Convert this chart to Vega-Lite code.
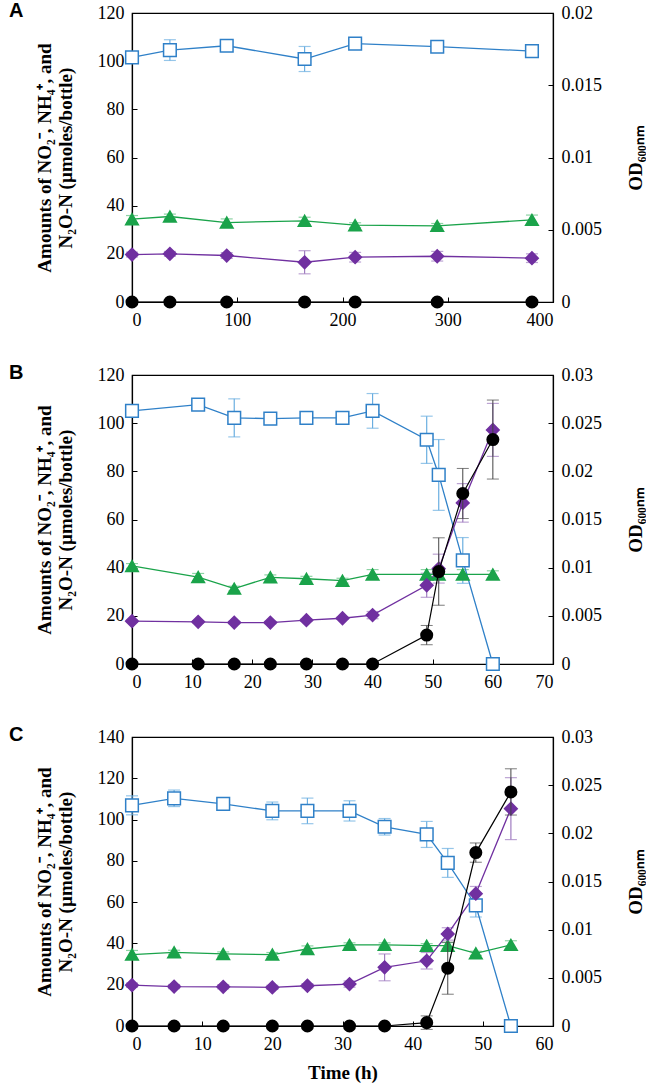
{
  "$schema": "https://vega.github.io/schema/vega-lite/v6.json",
  "background": "white",
  "padding": {"left": 8, "top": 0, "right": 0, "bottom": 0},
  "spacing": 32,
  "config": {
    "view": {"stroke": "black", "strokeWidth": 1.2},
    "axis": {"grid": false, "domainColor": "black", "domainWidth": 1.2, "tickColor": "black", "tickSize": -5, "labelFont": "Liberation Serif", "labelFontSize": 18, "labelColor": "black", "titleFont": "Liberation Serif", "titleFontSize": 19, "titleFontWeight": "bold", "titleColor": "black", "labelPadding": 13},
    "axisX": {"labelPadding": 14},
    "title": {"font": "Liberation Sans", "fontSize": 20, "fontWeight": "bold", "anchor": "start", "frame": "group", "dx": -123, "offset": -17, "color": "black"}
  },
  "datasets": {
    "A": [
      {"s": "NO2", "t": 0, "v": 101.6, "e": 1.5}, {"s": "NO2", "t": 36, "v": 104.6, "e": 4.3}, {"s": "NO2", "t": 90, "v": 106.4, "e": 1.5}, {"s": "NO2", "t": 164, "v": 100.9, "e": 5.2}, {"s": "NO2", "t": 212, "v": 107.3, "e": 1.5}, {"s": "NO2", "t": 290, "v": 106, "e": 1}, {"s": "NO2", "t": 380, "v": 104.2, "e": 1},
      {"s": "NH4", "t": 0, "v": 34.4, "e": 1.5}, {"s": "NH4", "t": 36, "v": 35.5, "e": 1}, {"s": "NH4", "t": 90, "v": 33, "e": 1.5}, {"s": "NH4", "t": 164, "v": 33.7, "e": 1.5}, {"s": "NH4", "t": 212, "v": 31.9, "e": 1}, {"s": "NH4", "t": 290, "v": 31.6, "e": 1}, {"s": "NH4", "t": 380, "v": 34.1, "e": 2},
      {"s": "N2O", "t": 0, "v": 19.7, "e": 1}, {"s": "N2O", "t": 36, "v": 20, "e": 1}, {"s": "N2O", "t": 90, "v": 19.3, "e": 1.2}, {"s": "N2O", "t": 164, "v": 16.5, "e": 4.8}, {"s": "N2O", "t": 212, "v": 18.6, "e": 2}, {"s": "N2O", "t": 290, "v": 19, "e": 2}, {"s": "N2O", "t": 380, "v": 18.2, "e": 1.8},
      {"s": "OD", "t": 0, "v": 0, "e": 0}, {"s": "OD", "t": 36, "v": 0, "e": 0}, {"s": "OD", "t": 90, "v": 0, "e": 0}, {"s": "OD", "t": 164, "v": 0, "e": 0}, {"s": "OD", "t": 212, "v": 0, "e": 0}, {"s": "OD", "t": 290, "v": 0, "e": 0}, {"s": "OD", "t": 380, "v": 0, "e": 0}
    ],
    "B": [
      {"s": "NO2", "t": 0, "v": 105.1, "e": 1}, {"s": "NO2", "t": 11, "v": 107.7, "e": 2}, {"s": "NO2", "t": 17, "v": 102.2, "e": 7.9}, {"s": "NO2", "t": 23, "v": 101.9, "e": 2.5}, {"s": "NO2", "t": 29, "v": 102.2, "e": 2.5}, {"s": "NO2", "t": 35, "v": 102.2, "e": 2.5}, {"s": "NO2", "t": 40, "v": 105.1, "e": 7.2}, {"s": "NO2", "t": 49, "v": 93.1, "e": 9.8}, {"s": "NO2", "t": 51, "v": 78.5, "e": 14.7}, {"s": "NO2", "t": 55, "v": 43, "e": 9.5}, {"s": "NO2", "t": 60, "v": 0, "e": 0},
      {"s": "NH4", "t": 0, "v": 40.7, "e": 1}, {"s": "NH4", "t": 11, "v": 36.1, "e": 1.5}, {"s": "NH4", "t": 17, "v": 31.3, "e": 1}, {"s": "NH4", "t": 23, "v": 36, "e": 1}, {"s": "NH4", "t": 29, "v": 35.4, "e": 1}, {"s": "NH4", "t": 35, "v": 34.6, "e": 1}, {"s": "NH4", "t": 40, "v": 37.2, "e": 2}, {"s": "NH4", "t": 49, "v": 37.2, "e": 2}, {"s": "NH4", "t": 51, "v": 37.2, "e": 2}, {"s": "NH4", "t": 55, "v": 37.2, "e": 2}, {"s": "NH4", "t": 60, "v": 37.2, "e": 1.5},
      {"s": "N2O", "t": 0, "v": 17.8, "e": 0.5}, {"s": "N2O", "t": 11, "v": 17.5, "e": 0.5}, {"s": "N2O", "t": 17, "v": 17.2, "e": 0.5}, {"s": "N2O", "t": 23, "v": 17.2, "e": 0.5}, {"s": "N2O", "t": 29, "v": 18.2, "e": 0.5}, {"s": "N2O", "t": 35, "v": 19, "e": 0.5}, {"s": "N2O", "t": 40, "v": 20.3, "e": 1.5}, {"s": "N2O", "t": 49, "v": 32.7, "e": 5}, {"s": "N2O", "t": 51, "v": 39.6, "e": 6}, {"s": "N2O", "t": 55, "v": 66.9, "e": 8}, {"s": "N2O", "t": 60, "v": 97.2, "e": 11},
      {"s": "OD", "t": 0, "v": 0, "e": 0}, {"s": "OD", "t": 11, "v": 0, "e": 0}, {"s": "OD", "t": 17, "v": 0, "e": 0}, {"s": "OD", "t": 23, "v": 0, "e": 0}, {"s": "OD", "t": 29, "v": 0, "e": 0}, {"s": "OD", "t": 35, "v": 0, "e": 0}, {"s": "OD", "t": 40, "v": 0, "e": 0}, {"s": "OD", "t": 49, "v": 0.003, "e": 0.001}, {"s": "OD", "t": 51, "v": 0.0096, "e": 0.0035}, {"s": "OD", "t": 55, "v": 0.0177, "e": 0.0026}, {"s": "OD", "t": 60, "v": 0.0233, "e": 0.0041}
    ],
    "C": [
      {"s": "NO2", "t": 0, "v": 106.9, "e": 4.6}, {"s": "NO2", "t": 6, "v": 110.3, "e": 4}, {"s": "NO2", "t": 13, "v": 107.6, "e": 1.5}, {"s": "NO2", "t": 20, "v": 104.2, "e": 4.3}, {"s": "NO2", "t": 25, "v": 104.2, "e": 6.2}, {"s": "NO2", "t": 31, "v": 104.2, "e": 4.9}, {"s": "NO2", "t": 36, "v": 96.5, "e": 4}, {"s": "NO2", "t": 42, "v": 92.8, "e": 6.3}, {"s": "NO2", "t": 45, "v": 79, "e": 7}, {"s": "NO2", "t": 49, "v": 58.4, "e": 5.6}, {"s": "NO2", "t": 54, "v": 0, "e": 0},
      {"s": "NH4", "t": 0, "v": 34.6, "e": 2}, {"s": "NH4", "t": 6, "v": 35.7, "e": 1}, {"s": "NH4", "t": 13, "v": 34.9, "e": 1}, {"s": "NH4", "t": 20, "v": 34.6, "e": 1}, {"s": "NH4", "t": 25, "v": 37.3, "e": 1.5}, {"s": "NH4", "t": 31, "v": 39.3, "e": 1}, {"s": "NH4", "t": 36, "v": 39.3, "e": 1}, {"s": "NH4", "t": 42, "v": 38.9, "e": 1}, {"s": "NH4", "t": 45, "v": 38.9, "e": 1.5}, {"s": "NH4", "t": 49, "v": 35.2, "e": 1}, {"s": "NH4", "t": 54, "v": 39.3, "e": 2},
      {"s": "N2O", "t": 0, "v": 19.8, "e": 1}, {"s": "N2O", "t": 6, "v": 19.1, "e": 1}, {"s": "N2O", "t": 13, "v": 19, "e": 1}, {"s": "N2O", "t": 20, "v": 18.7, "e": 1}, {"s": "N2O", "t": 25, "v": 19.5, "e": 1}, {"s": "N2O", "t": 31, "v": 20.3, "e": 1.5}, {"s": "N2O", "t": 36, "v": 28.4, "e": 6.5}, {"s": "N2O", "t": 42, "v": 31.6, "e": 4}, {"s": "N2O", "t": 45, "v": 44.6, "e": 3}, {"s": "N2O", "t": 49, "v": 64.1, "e": 3.5}, {"s": "N2O", "t": 54, "v": 105.3, "e": 15},
      {"s": "OD", "t": 0, "v": 0, "e": 0}, {"s": "OD", "t": 6, "v": 0, "e": 0}, {"s": "OD", "t": 13, "v": 0, "e": 0}, {"s": "OD", "t": 20, "v": 0, "e": 0}, {"s": "OD", "t": 25, "v": 0, "e": 0}, {"s": "OD", "t": 31, "v": 0, "e": 0}, {"s": "OD", "t": 36, "v": 0, "e": 0}, {"s": "OD", "t": 42, "v": 0.00035, "e": 0.0007}, {"s": "OD", "t": 45, "v": 0.006, "e": 0.0027}, {"s": "OD", "t": 49, "v": 0.018, "e": 0.001}, {"s": "OD", "t": 54, "v": 0.0243, "e": 0.0024}
    ]
  },
  "vconcat": [
    {
      "width": 421, "height": 289,
      "title": "A",
      "data": {"name": "A"},
      "layer": [
        {
          "transform": [{"filter": "datum.s != 'OD'"}],
          "encoding": {
            "x": {"field": "t", "type": "quantitative", "scale": {"domain": [0, 400], "nice": false}, "axis": {"values": [0, 100, 200, 300, 400], "title": null}},
            "y": {"field": "v", "type": "quantitative", "scale": {"domain": [0, 120], "nice": false}, "axis": {"values": [0, 20, 40, 60, 80, 100, 120], "title": ["Amounts of NO₂⁻, NH₄⁺, and", "N₂O-N  (µmoles/bottle)"], "titlePadding": 22}}
          },
          "layer": [
            {"mark": {"type": "errorbar", "ticks": {"size": 12}, "thickness": 1.2}, "encoding": {"yError": {"field": "e"}, "color": {"field": "s", "type": "nominal", "scale": {"domain": ["NO2", "NH4", "N2O"], "range": ["#6aaee0", "#5cc07e", "#a07cc0"]}, "legend": null}}},
            {"mark": {"type": "line", "strokeWidth": 1.3}, "encoding": {"stroke": {"field": "s", "type": "nominal", "scale": {"domain": ["NO2", "NH4", "N2O"], "range": ["#2f80c8", "#1aa34a", "#7030a0"]}, "legend": null}}},
            {"mark": {"type": "point", "filled": true, "opacity": 1, "strokeWidth": 1.5, "size": 160}, "encoding": {
              "shape": {"field": "s", "type": "nominal", "scale": {"domain": ["NO2", "NH4", "N2O"], "range": ["square", "triangle-up", "diamond"]}, "legend": null},
              "fill": {"field": "s", "type": "nominal", "scale": {"domain": ["NO2", "NH4", "N2O"], "range": ["white", "#1aa34a", "#7030a0"]}, "legend": null},
              "stroke": {"field": "s", "type": "nominal", "legend": null}}}
          ]
        },
        {
          "transform": [{"filter": "datum.s == 'OD'"}],
          "encoding": {
            "x": {"field": "t", "type": "quantitative"},
            "y": {"field": "v", "type": "quantitative", "scale": {"domain": [0, 0.02], "nice": false}, "axis": {"orient": "right", "values": [0, 0.005, 0.01, 0.015, 0.02], "format": "~g", "title": "OD₆₀₀ₙₘ", "titleAngle": -90, "titleBaseline": "top", "titlePadding": 25}}
          },
          "layer": [
            {"mark": {"type": "errorbar", "ticks": {"size": 12}, "color": "#444444"}, "encoding": {"yError": {"field": "e"}}},
            {"mark": {"type": "line", "color": "black", "strokeWidth": 1.2}},
            {"mark": {"type": "point", "shape": "circle", "filled": true, "opacity": 1, "color": "black", "size": 170}}
          ]
        }
      ],
      "resolve": {"scale": {"y": "independent"}}
    },
    {
      "width": 421, "height": 289,
      "title": "B",
      "data": {"name": "B"},
      "layer": [
        {
          "transform": [{"filter": "datum.s != 'OD'"}],
          "encoding": {
            "x": {"field": "t", "type": "quantitative", "scale": {"domain": [0, 70], "nice": false}, "axis": {"values": [0, 10, 20, 30, 40, 50, 60, 70], "title": null}},
            "y": {"field": "v", "type": "quantitative", "scale": {"domain": [0, 120], "nice": false}, "axis": {"values": [0, 20, 40, 60, 80, 100, 120], "title": ["Amounts of NO₂⁻, NH₄⁺, and", "N₂O-N  (µmoles/bottle)"], "titlePadding": 22}}
          },
          "layer": [
            {"mark": {"type": "errorbar", "ticks": {"size": 12}, "thickness": 1.2}, "encoding": {"yError": {"field": "e"}, "color": {"field": "s", "type": "nominal", "scale": {"domain": ["NO2", "NH4", "N2O"], "range": ["#6aaee0", "#5cc07e", "#a07cc0"]}, "legend": null}}},
            {"mark": {"type": "line", "strokeWidth": 1.3}, "encoding": {"stroke": {"field": "s", "type": "nominal", "scale": {"domain": ["NO2", "NH4", "N2O"], "range": ["#2f80c8", "#1aa34a", "#7030a0"]}, "legend": null}}},
            {"mark": {"type": "point", "filled": true, "opacity": 1, "strokeWidth": 1.5, "size": 160}, "encoding": {
              "shape": {"field": "s", "type": "nominal", "scale": {"domain": ["NO2", "NH4", "N2O"], "range": ["square", "triangle-up", "diamond"]}, "legend": null},
              "fill": {"field": "s", "type": "nominal", "scale": {"domain": ["NO2", "NH4", "N2O"], "range": ["white", "#1aa34a", "#7030a0"]}, "legend": null},
              "stroke": {"field": "s", "type": "nominal", "legend": null}}}
          ]
        },
        {
          "transform": [{"filter": "datum.s == 'OD'"}],
          "encoding": {
            "x": {"field": "t", "type": "quantitative"},
            "y": {"field": "v", "type": "quantitative", "scale": {"domain": [0, 0.03], "nice": false}, "axis": {"orient": "right", "values": [0, 0.005, 0.01, 0.015, 0.02, 0.025, 0.03], "format": "~g", "title": "OD₆₀₀ₙₘ", "titleAngle": -90, "titleBaseline": "top", "titlePadding": 25}}
          },
          "layer": [
            {"mark": {"type": "errorbar", "ticks": {"size": 12}, "color": "#444444"}, "encoding": {"yError": {"field": "e"}}},
            {"mark": {"type": "line", "color": "black", "strokeWidth": 1.2}},
            {"mark": {"type": "point", "shape": "circle", "filled": true, "opacity": 1, "color": "black", "size": 170}}
          ]
        }
      ],
      "resolve": {"scale": {"y": "independent"}}
    },
    {
      "width": 421, "height": 289,
      "title": "C",
      "data": {"name": "C"},
      "layer": [
        {
          "transform": [{"filter": "datum.s != 'OD'"}],
          "encoding": {
            "x": {"field": "t", "type": "quantitative", "scale": {"domain": [0, 60], "nice": false}, "axis": {"values": [0, 10, 20, 30, 40, 50, 60], "title": "Time (h)", "titlePadding": 10}},
            "y": {"field": "v", "type": "quantitative", "scale": {"domain": [0, 140], "nice": false}, "axis": {"values": [0, 20, 40, 60, 80, 100, 120, 140], "title": ["Amounts of NO₂⁻, NH₄⁺, and", "N₂O-N  (µmoles/bottle)"], "titlePadding": 22}}
          },
          "layer": [
            {"mark": {"type": "errorbar", "ticks": {"size": 12}, "thickness": 1.2}, "encoding": {"yError": {"field": "e"}, "color": {"field": "s", "type": "nominal", "scale": {"domain": ["NO2", "NH4", "N2O"], "range": ["#6aaee0", "#5cc07e", "#a07cc0"]}, "legend": null}}},
            {"mark": {"type": "line", "strokeWidth": 1.3}, "encoding": {"stroke": {"field": "s", "type": "nominal", "scale": {"domain": ["NO2", "NH4", "N2O"], "range": ["#2f80c8", "#1aa34a", "#7030a0"]}, "legend": null}}},
            {"mark": {"type": "point", "filled": true, "opacity": 1, "strokeWidth": 1.5, "size": 160}, "encoding": {
              "shape": {"field": "s", "type": "nominal", "scale": {"domain": ["NO2", "NH4", "N2O"], "range": ["square", "triangle-up", "diamond"]}, "legend": null},
              "fill": {"field": "s", "type": "nominal", "scale": {"domain": ["NO2", "NH4", "N2O"], "range": ["white", "#1aa34a", "#7030a0"]}, "legend": null},
              "stroke": {"field": "s", "type": "nominal", "legend": null}}}
          ]
        },
        {
          "transform": [{"filter": "datum.s == 'OD'"}],
          "encoding": {
            "x": {"field": "t", "type": "quantitative"},
            "y": {"field": "v", "type": "quantitative", "scale": {"domain": [0, 0.03], "nice": false}, "axis": {"orient": "right", "values": [0, 0.005, 0.01, 0.015, 0.02, 0.025, 0.03], "format": "~g", "title": "OD₆₀₀ₙₘ", "titleAngle": -90, "titleBaseline": "top", "titlePadding": 25}}
          },
          "layer": [
            {"mark": {"type": "errorbar", "ticks": {"size": 12}, "color": "#444444"}, "encoding": {"yError": {"field": "e"}}},
            {"mark": {"type": "line", "color": "black", "strokeWidth": 1.2}},
            {"mark": {"type": "point", "shape": "circle", "filled": true, "opacity": 1, "color": "black", "size": 170}}
          ]
        }
      ],
      "resolve": {"scale": {"y": "independent"}}
    }
  ]
}
